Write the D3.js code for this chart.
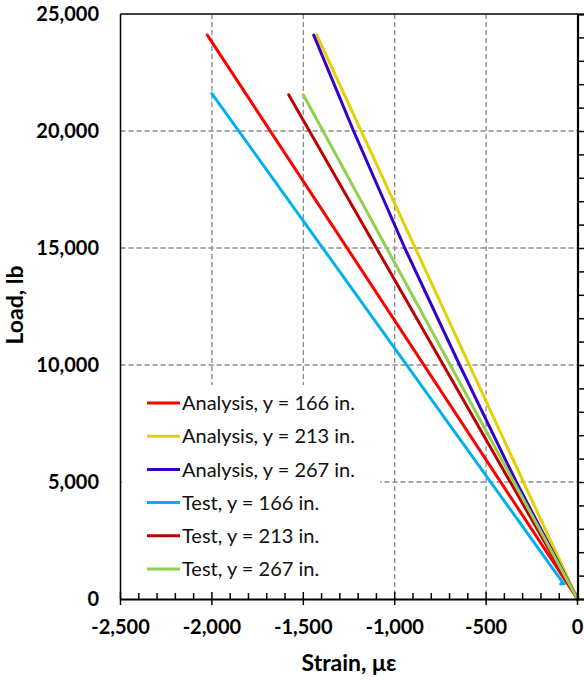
<!DOCTYPE html>
<html><head><meta charset="utf-8">
<script src="https://cdn.jsdelivr.net/npm/d3@7"></script>
<style>body{margin:0;background:#fff}svg{display:block}</style>
</head><body>
<svg id="c" width="584" height="680"></svg>
<script>
// ---- data ----
const seriesNames = ["Analysis, y = 166 in.","Analysis, y = 213 in.","Analysis, y = 267 in.","Test, y = 166 in.","Test, y = 213 in.","Test, y = 267 in."];
const seriesColors = ["#FF0000","#E6D000","#3300CC","#00B0F0","#C00000","#92D050"];
const strainA166 = [-2025, 0];   const loadA166 = [24100, 0];
const strainA213 = [-1426, 0];   const loadA213 = [24100, 0];
const strainA267 = [-1443, -1225, -945, -645, -335, 0]; const loadA267 = [24100, 20000, 15000, 10000, 5000, 0];
const strainT166 = [-2000, -82, -92, -72]; const loadT166 = [21600, 720, 640, 660];
const strainT213 = [-1580, -4];  const loadT213 = [21550, 40];
const strainT267 = [-1500, 0];   const loadT267 = [21550, 0];
const xTicks = [-2500,-2000,-1500,-1000,-500,0];
const yTicks = [0,5000,10000,15000,20000,25000];
const xLabel = "Strain, με";
const yLabel = "Load, lb";

const seriesData = [
  [strainA166, loadA166],[strainA213, loadA213],[strainA267, loadA267],
  [strainT166, loadT166],[strainT213, loadT213],[strainT267, loadT267]
].map(([xs, ys]) => xs.map((x, i) => [x, ys[i]]));

// ---- layout ----
const svg = d3.select("#c");
const L = 120.5, R = 577.5, T = 14, B = 599;
const x = d3.scaleLinear().domain([-2500, 0]).range([L, R]);
const y = d3.scaleLinear().domain([0, 25000]).range([B, T]);
const font = "Lato, 'Open Sans', sans-serif";
const fmt = v => d3.format(",")(v).replace("\u2212", "-");

// gridlines
const grid = svg.append("g").attr("stroke", "#8c8c8c").attr("stroke-width", 1.3).attr("stroke-dasharray", "5,3");
xTicks.filter(v => v > -2500 && v < 0).forEach(v => {
  grid.append("line").attr("x1", x(v)).attr("x2", x(v)).attr("y1", T).attr("y2", B);
});
yTicks.filter(v => v > 0 && v < 25000).forEach(v => {
  grid.append("line").attr("x1", L).attr("x2", R).attr("y1", y(v)).attr("y2", y(v));
});

// frame (left & top)
svg.append("line").attr("x1", L).attr("x2", L).attr("y1", T).attr("y2", B).attr("stroke", "#000").attr("stroke-width", 1.5);
svg.append("line").attr("x1", L).attr("x2", R).attr("y1", T).attr("y2", T).attr("stroke", "#000").attr("stroke-width", 1.5);

// legend background
svg.append("rect").attr("x", L + 1.5).attr("y", 385).attr("width", 258).attr("height", B - 386).attr("fill", "#fff");

// data lines
const line = d3.line().x(d => x(d[0])).y(d => y(d[1]));
seriesData.forEach((d, i) => {
  svg.append("path").datum(d).attr("d", line).attr("fill", "none")
    .attr("stroke", seriesColors[i]).attr("stroke-width", 3).attr("stroke-linejoin", "round").attr("stroke-linecap", "round");
});

// bottom axis
const xAxis = svg.append("g").attr("transform", `translate(0,${B})`);
xAxis.call(d3.axisBottom(x).tickValues(d3.range(-2500, 1, 100)).tickSize(0).tickFormat(""));
xAxis.select(".domain").attr("stroke", "#000").attr("stroke-width", 2);
const xt = svg.append("g").attr("stroke", "#000").attr("stroke-width", 1.5);
d3.range(-2500, 1, 100).forEach(v => {
  const major = v % 500 === 0;
  xt.append("line").attr("x1", x(v)).attr("x2", x(v)).attr("y1", major ? B - 7 : B - 6).attr("y2", major ? B + 6 : B);
});
svg.append("g").selectAll("text").data(xTicks).join("text")
  .attr("x", d => x(d)).attr("y", 634).attr("text-anchor", "middle")
  .attr("font-family", font).attr("font-weight", "bold").attr("font-size", 20)
  .text(d => fmt(d));

// right axis (y)
const yAxis = svg.append("g").attr("transform", `translate(${R},0)`);
yAxis.call(d3.axisRight(y).tickValues(d3.range(0, 25001, 1000)).tickSize(7).tickFormat(""));
yAxis.select(".domain").attr("stroke", "#000").attr("stroke-width", 2.2);
yAxis.selectAll(".tick line").attr("stroke", "#000").attr("stroke-width", 1.5);
svg.append("g").selectAll("text").data(yTicks).join("text")
  .attr("x", 99).attr("y", d => y(d)).attr("dy", "0.36em").attr("text-anchor", "end")
  .attr("font-family", font).attr("font-weight", "bold").attr("font-size", 20)
  .text(d => fmt(d));

// axis titles
svg.append("text").attr("x", (L + R) / 2).attr("y", 671).attr("text-anchor", "middle")
  .attr("font-family", font).attr("font-weight", "bold").attr("font-size", 23).text(xLabel);
svg.append("text").attr("transform", "translate(23,305) rotate(-90)").attr("text-anchor", "middle")
  .attr("font-family", font).attr("font-weight", "bold").attr("font-size", 23).text(yLabel);

// legend
const lg = svg.append("g");
seriesNames.forEach((n, i) => {
  const cy = 403 + i * 33.2;
  lg.append("line").attr("x1", 147).attr("x2", 180).attr("y1", cy).attr("y2", cy)
    .attr("stroke", seriesColors[i]).attr("stroke-width", 3);
  lg.append("text").attr("x", 182).attr("y", cy).attr("dy", "0.36em")
    .attr("font-family", font).attr("font-size", 20).attr("fill", "#111").text(n);
});
</script>
</body></html>
